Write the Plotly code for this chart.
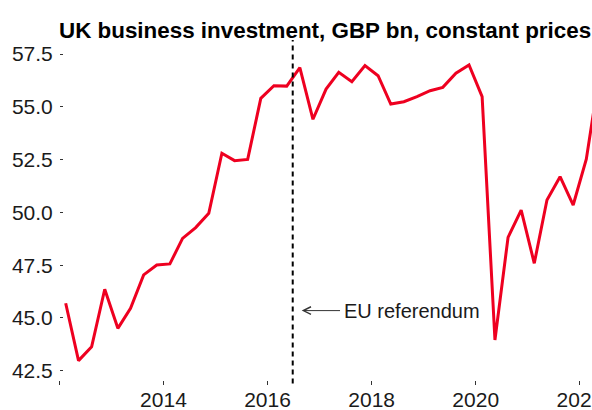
import plotly.graph_objects as go
import pandas as pd

# Quarterly UK business investment, GBP bn (constant prices), mid-quarter dates
quarters = pd.date_range("2012-02-01", periods=42, freq="3MS") + pd.Timedelta(days=14)
values = [45.70, 42.98, 43.64, 46.36,
          44.51, 45.46, 47.04, 47.51,
          47.56, 48.77, 49.28, 49.96,
          52.80, 52.45, 52.51, 55.40,
          56.00, 55.98, 56.85, 54.41,
          55.84, 56.63, 56.19, 56.95,
          56.47, 55.13, 55.24, 55.48,
          55.76, 55.92, 56.59, 56.98,
          55.48, 43.96, 48.82, 50.11,
          47.59, 50.59, 51.69, 50.35,
          52.52, 56.40]

x_tick_dates = ["2012-01-01", "2014-01-01", "2016-01-01", "2018-01-01", "2020-01-01", "2022-01-01"]
x_tick_labels = ["", "2014", "2016", "2018", "2020", "2022"]
y_tick_vals = [42.5, 45.0, 47.5, 50.0, 52.5, 55.0, 57.5]
y_tick_labels = [f"{v:.1f}" for v in y_tick_vals]

referendum_date = "2016-06-26"
annotation_text = "EU referendum"
annotation_y = 45.35
arrow_tip = "2016-08-28"
arrow_tail = "2017-05-24"

title_text = "<b>UK business investment, GBP bn, constant prices</b>"

FONT = "Liberation Sans, Arial, sans-serif"

fig = go.Figure()
fig.add_trace(go.Scatter(
    x=quarters, y=values, mode="lines",
    line=dict(color="#EE0020", width=3),
    showlegend=False, hoverinfo="skip",
))

fig.add_shape(type="line", xref="x", yref="paper",
              x0=referendum_date, x1=referendum_date, y0=-0.01, y1=1.0,
              line=dict(color="black", width=2, dash="5px,4px"))

fig.add_annotation(
    x=arrow_tip, y=annotation_y, ax=arrow_tail, ay=annotation_y,
    xref="x", yref="y", axref="x", ayref="y",
    text=annotation_text, showarrow=True, xanchor="left", borderpad=3,
    arrowhead=5, arrowsize=1.5, arrowwidth=1, arrowcolor="#333333",
    font=dict(family=FONT, size=20, color="#1a1a1a"),
)

fig.update_layout(
    width=592, height=410,
    margin=dict(l=57, r=0, t=40, b=30),
    paper_bgcolor="white", plot_bgcolor="white",
    font=dict(family=FONT, size=21, color="#1a1a1a"),
    title=dict(text=title_text, font=dict(family=FONT, size=22.4, color="black"),
               xref="container", yref="container",
               x=59 / 592, xanchor="left", y=(410 - 30) / 410, yanchor="middle"),
    xaxis=dict(type="date", range=["2011-12-16", "2022-03-27"],
               tickmode="array", tickvals=x_tick_dates, ticktext=x_tick_labels,
               ticks="outside", ticklen=4, tickwidth=1, tickcolor="#333333",
               ticklabeloverflow="allow", ticklabelstandoff=-3,
               showline=False, showgrid=False, zeroline=False, automargin=False,
               tickfont=dict(family=FONT, size=21, color="#1a1a1a")),
    yaxis=dict(range=[42.064, 58.163], anchor="free", position=0.0112,
               tickmode="array", tickvals=y_tick_vals, ticktext=y_tick_labels,
               ticks="outside", ticklen=3, tickwidth=1, tickcolor="#333333",
               ticklabelstandoff=3, ticklabeloverflow="allow",
               showline=False, showgrid=False, zeroline=False, automargin=False,
               tickfont=dict(family=FONT, size=21, color="#1a1a1a")),
)

fig.write_html("out.html")
